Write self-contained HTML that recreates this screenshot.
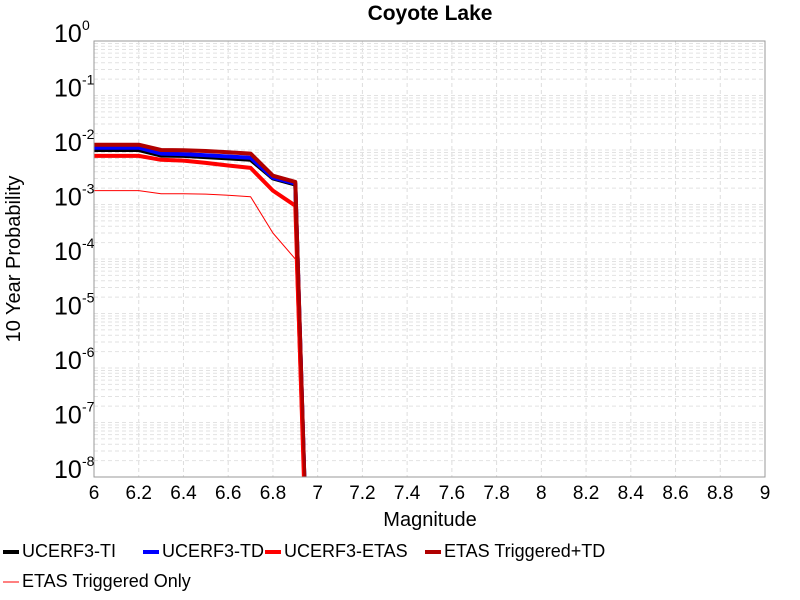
<!DOCTYPE html>
<html><head><meta charset="utf-8"><style>
html,body{margin:0;background:#fff;overflow:hidden;width:800px;height:600px;}
svg{display:block;font-family:"Liberation Sans",sans-serif;}
</style></head><body>
<svg id="chart" width="800" height="600">
<text x="430" y="20" text-anchor="middle" font-size="21" font-weight="bold">Coyote Lake</text>
<g id="grid"></g>
<g id="series"></g>
<rect x="94" y="41" width="671" height="436" fill="none" stroke="#999" stroke-width="1"/>
<g id="ticks"></g>
<text x="430" y="526" text-anchor="middle" font-size="20">Magnitude</text>
<text transform="translate(20,259) rotate(-90)" text-anchor="middle" font-size="20">10 Year Probability</text>
<g id="legend"></g>
</svg>
<script>
const xs = [6.0,6.1,6.2,6.3,6.4,6.5,6.6,6.7,6.8,6.9,7.0];
const ucerfTI   = [0.0100,0.0100,0.0100,0.0079,0.0078,0.0074,0.0070,0.0066,0.00300,0.00232,1e-16];
const ucerfTD   = [0.0110,0.0110,0.0110,0.0086,0.0084,0.0080,0.0076,0.0072,0.0031,0.00242,1e-16];
const ucerfETAS = [0.0078,0.0078,0.0078,0.0066,0.0064,0.0058,0.0052,0.0047,0.00180,0.00095,1e-16];
const trigTD    = [0.0125,0.0125,0.0125,0.0100,0.0099,0.0096,0.0091,0.0086,0.00338,0.0026,1e-16];
const trigOnly  = [0.00180,0.00180,0.00180,0.00158,0.00158,0.00155,0.00148,0.00139,0.00030,0.000100,1e-16];
const xTicks = [6,6.2,6.4,6.6,6.8,7,7.2,7.4,7.6,7.8,8,8.2,8.4,8.6,8.8,9];
const xTickLabels = ["6","6.2","6.4","6.6","6.8","7","7.2","7.4","7.6","7.8","8","8.2","8.4","8.6","8.8","9"];
const yExps = [0,-1,-2,-3,-4,-5,-6,-7,-8];
const seriesNames = ["UCERF3-TI","UCERF3-TD","UCERF3-ETAS","ETAS Triggered+TD","ETAS Triggered Only"];

const NS="http://www.w3.org/2000/svg";
const L=94,R=765,T=41,B=477;
function xs2px(v){return L+(v-6)/3*(R-L);}
function ys2px(v){return B-(Math.log10(v)+8)/8*(B-T);}
function mk(tag,attrs,parent){const e=document.createElementNS(NS,tag);for(const k in attrs)e.setAttribute(k,attrs[k]);parent.appendChild(e);return e;}
const grid=document.getElementById('grid');
for(const t of xTicks){
  const l=mk('line',{x1:xs2px(t),x2:xs2px(t),y1:T,y2:B,stroke:'#ddd','stroke-dasharray':'4,3'},grid);
  
  
}
for(let e=-8;e<0;e++){for(let m=1;m<10;m++){
  const y=ys2px(m*Math.pow(10,e));
  const l=mk('line',{x1:L,x2:R,y1:y,y2:y,stroke:'#e2e2e2','stroke-dasharray':'4,3'},grid);
  
  
}}
const ticks=document.getElementById('ticks');
xTicks.forEach((t,i)=>{
  const tx=mk('text',{x:xs2px(t),y:499,'text-anchor':'middle','font-size':'19'},ticks);
  tx.textContent=xTickLabels[i];
  
  
});
yExps.forEach(e=>{
  const y=ys2px(Math.pow(10,e));
  const tx=mk('text',{x:54,y:y+1,'font-size':'25'},ticks);
  tx.textContent='10';
  
  
  const sp=mk('text',{x:82,y:y-11,'font-size':'14'},ticks);
  sp.textContent=String(e);
  
  
});
const ser=document.getElementById('series');
const defs=[[ucerfTI,'#000',4],[ucerfTD,'#0000ff',4],[ucerfETAS,'#ff0000',4],[trigTD,'#b00000',4],[trigOnly,'#ff0000',1]];
const cp=mk('clipPath',{id:'clip'},ser);mk('rect',{x:L,y:T,width:R-L,height:B-T},cp);
defs.forEach((d,i)=>{
  const pts=xs.map((x,j)=>xs2px(x).toFixed(1)+','+ys2px(d[0][j]).toFixed(1)).join(' ');
  const p=mk('polyline',{points:pts,fill:'none',stroke:d[1],'stroke-width':d[2],'clip-path':'url(#clip)','stroke-linejoin':'round'},ser);
  
  
});
const leg=document.getElementById('legend');
const lpos=[[3,549],[143,549],[265,549],[425,549],[3,579]];
defs.forEach((d,i)=>{
  const [x,y]=lpos[i];
  const ln=mk('line',{x1:x,x2:x+16,y1:y+3,y2:y+3,stroke:d[1],'stroke-width':d[2]},leg);
  
  
  const tx=mk('text',{x:x+19,y:y+8,'font-size':'18'},leg);
  tx.textContent=seriesNames[i];
  
  
});
</script>
</body></html>
